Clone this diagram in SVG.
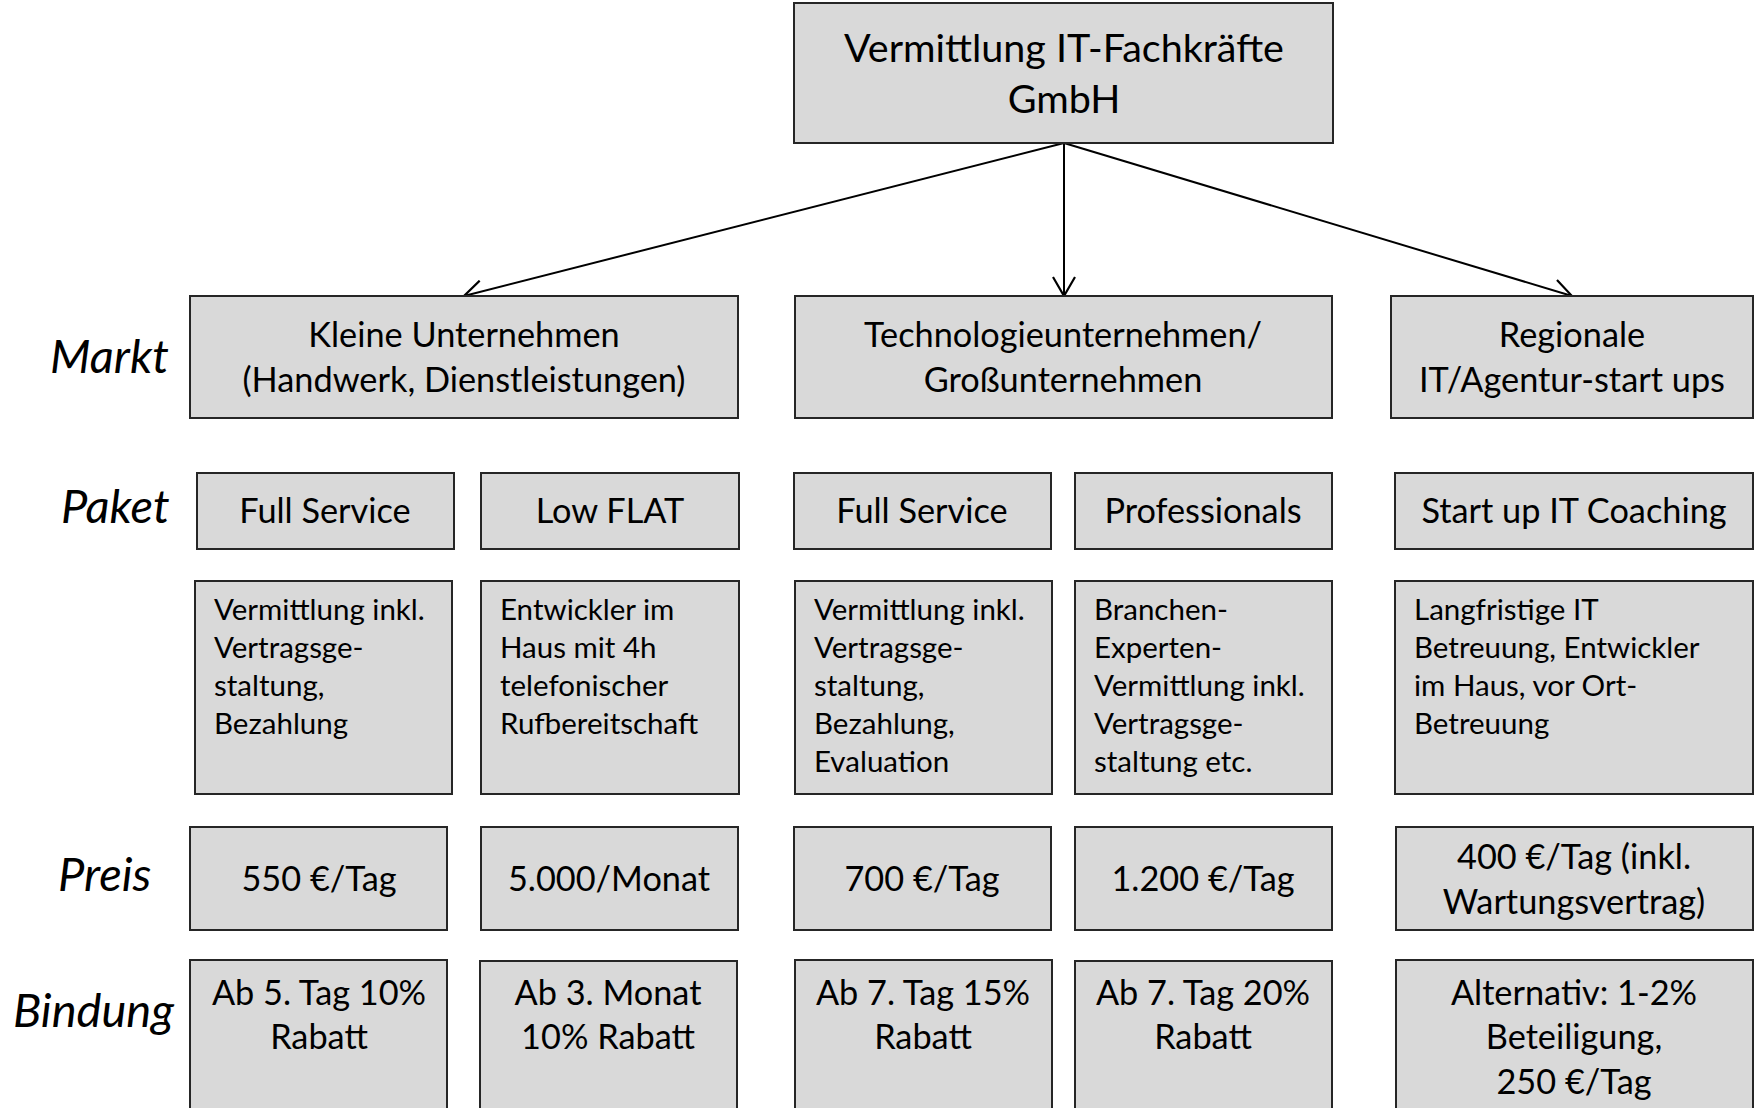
<svg xmlns="http://www.w3.org/2000/svg" width="1754" height="1108" viewBox="0 0 1754 1108">
  <style>
    .box { fill: #d9d9d9; stroke: #262626; stroke-width: 2; }
    text { font-family: Lato, "Open Sans", "Liberation Sans", sans-serif; fill: #000; }
    .title { font-size: 39.5px; text-anchor: middle; }
    .mid { font-size: 34.3px; text-anchor: middle; }
    .desc { font-size: 29.5px; }
    .label { font-size: 47px; font-style: italic; }
    .link { stroke: #000; stroke-width: 2; fill: none; }
  </style>
  <defs>
    <marker id="open-arrow" viewBox="0 0 22 24" refX="20" refY="12" markerWidth="22" markerHeight="24" markerUnits="userSpaceOnUse" orient="auto">
      <path d="M1,1 L20,12 L1,23" fill="none" stroke="#000" stroke-width="2.2"/>
    </marker>
  </defs>

  <rect width="1754" height="1108" fill="#fff"/>

  <!-- row labels -->
  <g id="row-labels">
    <text class="label" x="50" y="373">Markt</text>
    <text class="label" x="61" y="523">Paket</text>
    <text class="label" x="58" y="891">Preis</text>
    <text class="label" x="13" y="1027">Bindung</text>
  </g>

  <!-- connectors from the company box to the three markets -->
  <g id="connectors">
    <line class="link" x1="1064" y1="143" x2="464" y2="296" marker-end="url(#open-arrow)"/>
    <line class="link" x1="1064" y1="143" x2="1064" y2="296" marker-end="url(#open-arrow)"/>
    <line class="link" x1="1064" y1="143" x2="1572" y2="296" marker-end="url(#open-arrow)"/>
  </g>

  <!-- company -->
  <g id="company">
    <rect class="box" x="794" y="3" width="539" height="140"/>
    <text class="title" x="1064" y="62">Vermittlung IT-Fachkräfte</text>
    <text class="title" x="1064" y="113">GmbH</text>
  </g>

  <!-- markets -->
  <g id="market-small">
    <rect class="box" x="190" y="296" width="548" height="122"/>
    <text class="mid" x="464" y="347">Kleine Unternehmen</text>
    <text class="mid" x="464" y="392">(Handwerk, Dienstleistungen)</text>
  </g>
  <g id="market-tech">
    <rect class="box" x="795" y="296" width="537" height="122"/>
    <text class="mid" x="1063" y="347">Technologieunternehmen/</text>
    <text class="mid" x="1063" y="392">Großunternehmen</text>
  </g>
  <g id="market-regional">
    <rect class="box" x="1391" y="296" width="362" height="122"/>
    <text class="mid" x="1572" y="347">Regionale</text>
    <text class="mid" x="1572" y="392">IT/Agentur-start ups</text>
  </g>

  <!-- packages -->
  <g id="pkg-full-small">
    <rect class="box" x="197" y="473" width="257" height="76"/>
    <text class="mid" x="325" y="523">Full Service</text>
  </g>
  <g id="pkg-low-flat">
    <rect class="box" x="481" y="473" width="258" height="76"/>
    <text class="mid" x="610" y="523">Low FLAT</text>
  </g>
  <g id="pkg-full-tech">
    <rect class="box" x="794" y="473" width="257" height="76"/>
    <text class="mid" x="922" y="523">Full Service</text>
  </g>
  <g id="pkg-professionals">
    <rect class="box" x="1075" y="473" width="257" height="76"/>
    <text class="mid" x="1203" y="523">Professionals</text>
  </g>
  <g id="pkg-startup">
    <rect class="box" x="1395" y="473" width="358" height="76"/>
    <text class="mid" x="1574" y="523">Start up IT Coaching</text>
  </g>

  <!-- package descriptions -->
  <g id="desc-full-small">
    <rect class="box" x="195" y="581" width="257" height="213"/>
    <text class="desc" x="214" y="620">Vermittlung inkl.</text>
    <text class="desc" x="214" y="658">Vertragsge-</text>
    <text class="desc" x="214" y="696">staltung,</text>
    <text class="desc" x="214" y="734">Bezahlung</text>
  </g>
  <g id="desc-low-flat">
    <rect class="box" x="481" y="581" width="258" height="213"/>
    <text class="desc" x="500" y="620">Entwickler im</text>
    <text class="desc" x="500" y="658">Haus mit 4h</text>
    <text class="desc" x="500" y="696">telefonischer</text>
    <text class="desc" x="500" y="734">Rufbereitschaft</text>
  </g>
  <g id="desc-full-tech">
    <rect class="box" x="795" y="581" width="257" height="213"/>
    <text class="desc" x="814" y="620">Vermittlung inkl.</text>
    <text class="desc" x="814" y="658">Vertragsge-</text>
    <text class="desc" x="814" y="696">staltung,</text>
    <text class="desc" x="814" y="734">Bezahlung,</text>
    <text class="desc" x="814" y="772">Evaluation</text>
  </g>
  <g id="desc-professionals">
    <rect class="box" x="1075" y="581" width="257" height="213"/>
    <text class="desc" x="1094" y="620">Branchen-</text>
    <text class="desc" x="1094" y="658">Experten-</text>
    <text class="desc" x="1094" y="696">Vermittlung inkl.</text>
    <text class="desc" x="1094" y="734">Vertragsge-</text>
    <text class="desc" x="1094" y="772">staltung etc.</text>
  </g>
  <g id="desc-startup">
    <rect class="box" x="1395" y="581" width="358" height="213"/>
    <text class="desc" x="1414" y="620">Langfristige IT</text>
    <text class="desc" x="1414" y="658">Betreuung, Entwickler</text>
    <text class="desc" x="1414" y="696">im Haus, vor Ort-</text>
    <text class="desc" x="1414" y="734">Betreuung</text>
  </g>

  <!-- prices -->
  <g id="price-full-small">
    <rect class="box" x="190" y="827" width="257" height="103"/>
    <text class="mid" x="319" y="891">550 €/Tag</text>
  </g>
  <g id="price-low-flat">
    <rect class="box" x="481" y="827" width="257" height="103"/>
    <text class="mid" x="609" y="891">5.000/Monat</text>
  </g>
  <g id="price-full-tech">
    <rect class="box" x="794" y="827" width="257" height="103"/>
    <text class="mid" x="922" y="891">700 €/Tag</text>
  </g>
  <g id="price-professionals">
    <rect class="box" x="1075" y="827" width="257" height="103"/>
    <text class="mid" x="1203" y="891">1.200 €/Tag</text>
  </g>
  <g id="price-startup">
    <rect class="box" x="1396" y="827" width="357" height="103"/>
    <text class="mid" x="1574" y="869">400 €/Tag (inkl.</text>
    <text class="mid" x="1574" y="914">Wartungsvertrag)</text>
  </g>

  <!-- commitment / discounts -->
  <g id="bind-full-small">
    <rect class="box" x="190" y="960" width="257" height="160"/>
    <text class="mid" x="319" y="1005">Ab 5. Tag 10%</text>
    <text class="mid" x="319" y="1049">Rabatt</text>
  </g>
  <g id="bind-low-flat">
    <rect class="box" x="480" y="961" width="257" height="160"/>
    <text class="mid" x="608" y="1005">Ab 3. Monat</text>
    <text class="mid" x="608" y="1049">10% Rabatt</text>
  </g>
  <g id="bind-full-tech">
    <rect class="box" x="795" y="960" width="257" height="160"/>
    <text class="mid" x="923" y="1005">Ab 7. Tag 15%</text>
    <text class="mid" x="923" y="1049">Rabatt</text>
  </g>
  <g id="bind-professionals">
    <rect class="box" x="1075" y="961" width="257" height="160"/>
    <text class="mid" x="1203" y="1005">Ab 7. Tag 20%</text>
    <text class="mid" x="1203" y="1049">Rabatt</text>
  </g>
  <g id="bind-startup">
    <rect class="box" x="1396" y="960" width="357" height="160"/>
    <text class="mid" x="1574" y="1005">Alternativ: 1-2%</text>
    <text class="mid" x="1574" y="1049">Beteiligung,</text>
    <text class="mid" x="1574" y="1094">250 €/Tag</text>
  </g>
</svg>
